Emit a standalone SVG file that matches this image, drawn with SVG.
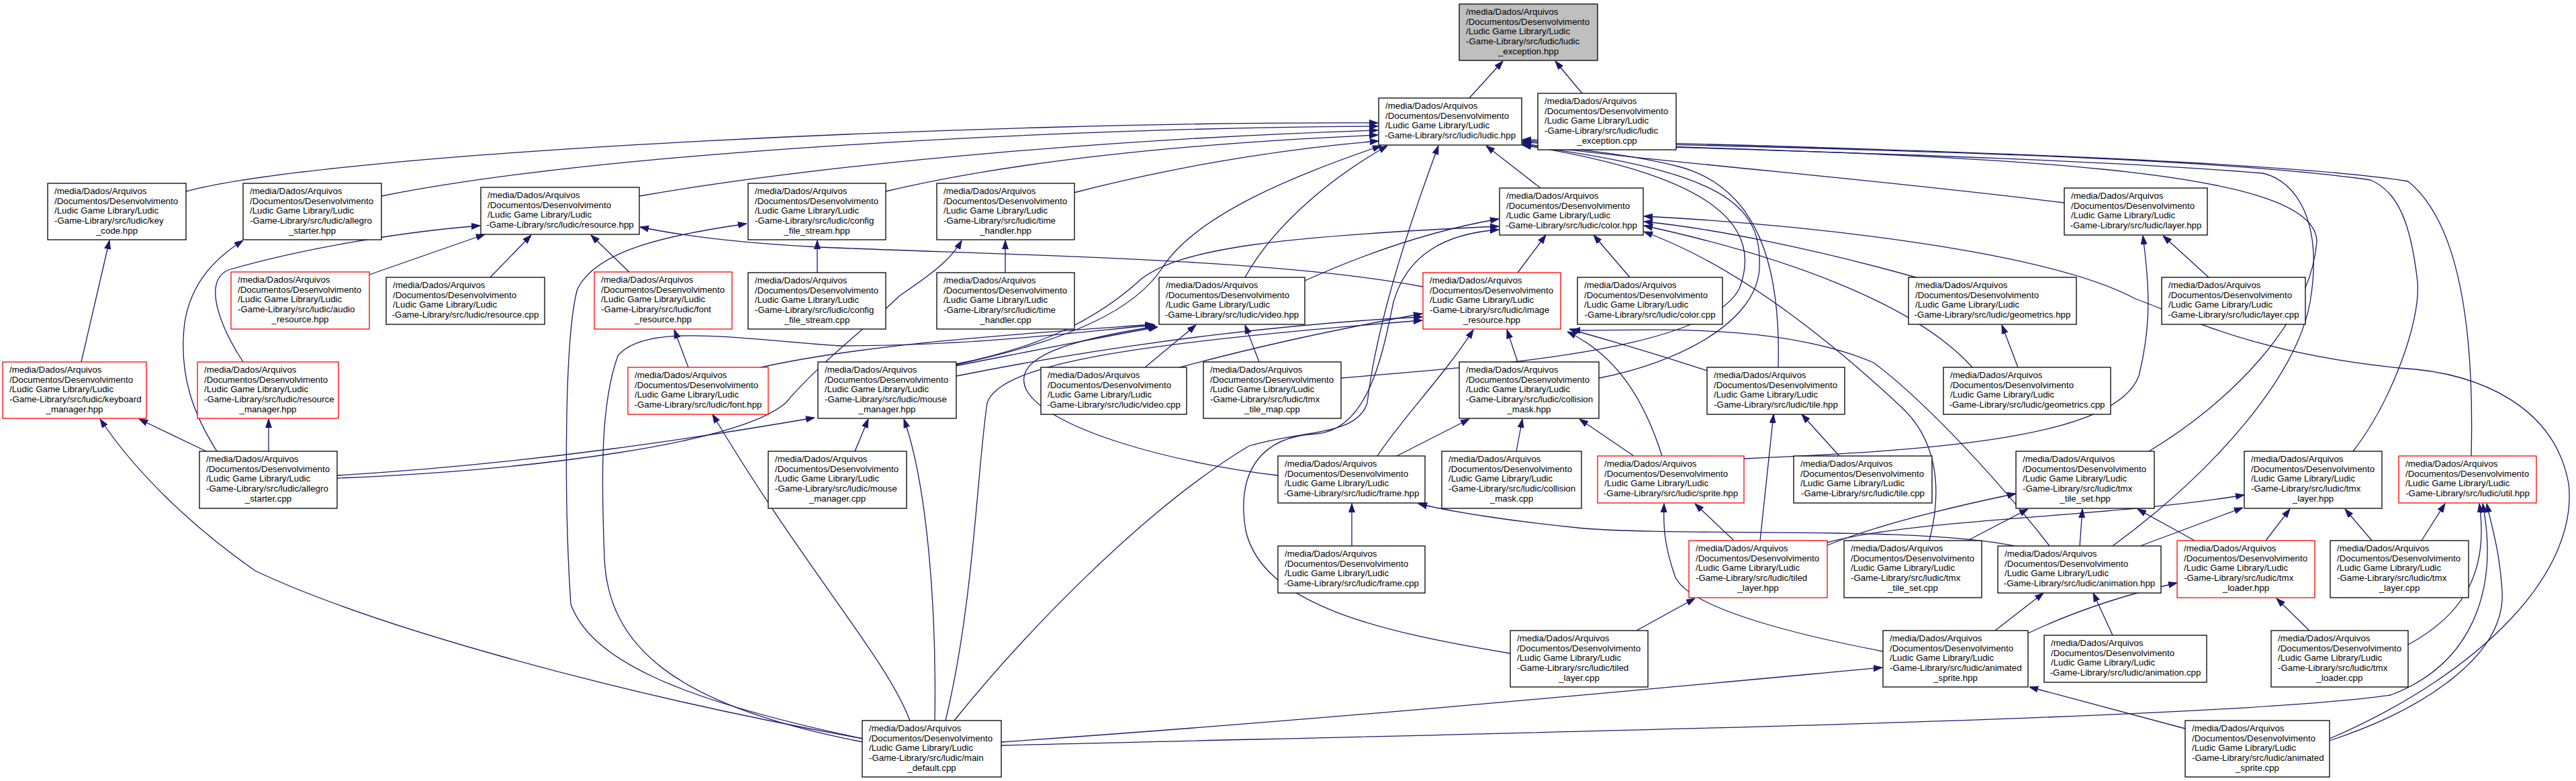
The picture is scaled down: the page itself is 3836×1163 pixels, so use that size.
<svg xmlns="http://www.w3.org/2000/svg" width="3836" height="1163" viewBox="0 0 3836 1163">
<defs>
<style>
.n rect{fill:#fff;stroke:#000;stroke-width:1.3}
.r rect{stroke:#f00}
.g rect{fill:#bfbfbf}
text{font-family:"Liberation Sans",Arial,sans-serif;font-size:13.3px;fill:#000}
.c{text-anchor:middle}
#edges path{fill:none;stroke:#191970;stroke-width:1.3;marker-end:url(#a)}
</style>
<marker id="a" markerUnits="userSpaceOnUse" markerWidth="13" markerHeight="10" viewBox="0 0 13 10" refX="13" refY="5" orient="auto"><path d="M0,0.5 L13,5 L0,9.5 z" fill="#191970" stroke="#191970" stroke-width="1"/></marker>
</defs>
<rect width="3836" height="1163" fill="#fff"/>
<g id="edges">
<path d="M2188,146 L2238,91"/>
<path d="M2356,139 L2316,91"/>
<path d="M277,285 C500,225 1500,180 2052,183"/>
<path d="M568,292 C900,225 1600,190 2052,188"/>
<path d="M952,292 C1250,240 1700,205 2052,194"/>
<path d="M1319,285 C1550,230 1850,210 2052,201"/>
<path d="M1599,287 C1780,240 1950,218 2053,210"/>
<path d="M1424,543 C1600,505 1690,460 1730,400 C1780,320 1930,260 2057,217"/>
<path d="M1424,542 C1560,515 1640,470 1700,415 C1760,370 1900,352 2232,337"/>
<path d="M1854,413 C1900,330 1990,260 2066,217"/>
<path d="M1421,1073 C1520,950 1700,760 1860,664 C1940,640 2020,650 2036,600 C2050,480 2100,330 2142,217"/>
<path d="M2294,280 L2213,217"/>
<path d="M3074,302 C2750,262 2450,240 2267,214"/>
<path d="M2648,547 C2652,400 2620,280 2500,248 C2420,228 2330,220 2267,215"/>
<path d="M1997,563 C2200,545 2540,525 2590,430 C2625,340 2560,262 2267,216"/>
<path d="M2381,563 C2500,540 2615,480 2620,400 C2625,300 2560,255 2267,216"/>
<path d="M3200,672 C3320,600 3440,480 3450,360 C3450,250 3000,232 2267,212"/>
<path d="M3504,672 C3560,600 3605,480 3600,420 C3590,330 3570,285 3530,268 C3300,235 2800,222 2267,210"/>
<path d="M3680,679 C3685,480 3660,330 3586,270 C3400,240 2800,220 2267,208"/>
<path d="M3146,813 C3300,700 3420,560 3440,450 C3460,330 3420,270 3370,258 C3100,236 2700,226 2267,212"/>
<path d="M3469,1100 C3700,1000 3840,850 3825,720 C3805,610 3700,555 3573,548 C3350,525 3250,470 3180,445 C3050,375 2700,335 2448,322"/>
<path d="M1491,1110 C2300,1090 3300,1072 3560,1035 C3680,990 3722,880 3697,750"/>
<path d="M3469,1103 C3600,1060 3732,980 3726,880 C3722,820 3712,790 3703,750"/>
<path d="M3586,960 C3660,920 3708,860 3692,750"/>
<path d="M3606,805 L3641,750"/>
<path d="M3532,805 L3492,758"/>
<path d="M3374,805 L3410,758"/>
<path d="M3268,805 L3183,758"/>
<path d="M3439,939 L3390,891"/>
<path d="M3020,943 C3100,905 3180,882 3242,868"/>
<path d="M2971,939 L3043,883"/>
<path d="M3146,946 L3117,883"/>
<path d="M3097,813 L3101,758"/>
<path d="M3187,813 L3340,756"/>
<path d="M2930,805 L3020,758"/>
<path d="M2721,812 C2800,780 2920,752 3002,735"/>
<path d="M2721,808 C2850,772 3150,770 3342,737"/>
<path d="M2621,805 L2641,617"/>
<path d="M2739,679 L2683,617"/>
<path d="M2582,805 L2524,750"/>
<path d="M2437,939 L2524,891"/>
<path d="M2804,970 C2700,950 2520,910 2495,860 C2477,810 2477,780 2478,750"/>
<path d="M3254,1085 L3022,1023"/>
<path d="M1491,1105 C2000,1070 2500,1022 2803,994"/>
<path d="M2433,679 L2352,624"/>
<path d="M2475,679 C2450,600 2410,530 2334,494"/>
<path d="M2542,552 C2460,525 2390,505 2337,490"/>
<path d="M2080,679 L2188,624"/>
<path d="M2051,679 C2090,620 2150,560 2194,491"/>
<path d="M2013,813 L2013,750"/>
<path d="M3000,813 C2850,782 2500,800 2350,786 C2250,776 2160,762 2112,750"/>
<path d="M2258,672 L2267,624"/>
<path d="M2260,539 L2244,491"/>
<path d="M1903,708 C1750,690 1560,640 1528,580 C1505,530 1600,505 1722,486"/>
<path d="M1705,547 L1781,484"/>
<path d="M1875,539 L1854,484"/>
<path d="M1757,547 C1850,522 1950,498 2118,467"/>
<path d="M1943,418 C2050,370 2150,340 2232,326"/>
<path d="M2260,406 L2302,350"/>
<path d="M2427,413 L2373,350"/>
<path d="M2853,413 C2700,370 2550,340 2448,330"/>
<path d="M3005,547 L2981,484"/>
<path d="M2937,547 C2850,450 2650,380 2448,336"/>
<path d="M3289,413 L3221,351"/>
<path d="M2873,805 C2895,720 2880,650 2830,605 C2750,530 2600,400 2448,345"/>
<path d="M3052,813 C2980,720 2870,600 2790,540 C2650,480 2450,492 2340,492"/>
<path d="M2119,427 C1900,385 1500,380 1220,368 C1100,362 1010,350 953,338"/>
<path d="M362,539 C330,490 300,420 340,402 C450,370 600,345 715,336"/>
<path d="M550,409 L722,349"/>
<path d="M730,413 L791,350"/>
<path d="M937,405 L880,350"/>
<path d="M121,539 L163,358"/>
<path d="M307,672 L207,624"/>
<path d="M1285,1100 C900,1030 550,930 380,850 C280,780 200,700 149,624"/>
<path d="M400,672 L400,624"/>
<path d="M323,672 C290,620 265,560 275,480 C285,420 320,385 362,358"/>
<path d="M502,708 C800,690 1050,650 1213,622"/>
<path d="M502,712 C800,700 1100,660 1170,600 C1220,540 1300,480 1340,440 C1400,400 1420,380 1432,358"/>
<path d="M1273,672 L1293,624"/>
<path d="M1392,1073 C1395,900 1380,720 1346,624"/>
<path d="M1355,1073 C1320,980 1200,850 1061,617"/>
<path d="M1285,1100 C1000,1040 880,980 850,900 C840,750 840,500 860,430 C890,370 1000,350 1112,333"/>
<path d="M1285,1105 C1000,1050 905,960 900,830 C895,700 895,600 920,530 C960,480 1100,505 1250,515 C1450,515 1600,495 1720,484"/>
<path d="M1025,547 L1004,491"/>
<path d="M1133,547 C1300,510 1550,495 1718,483"/>
<path d="M1422,545 C1550,520 1650,500 1724,487"/>
<path d="M1424,560 C1700,505 1950,480 2118,472"/>
<path d="M1408,1073 C1450,900 1455,700 1470,600 C1490,540 1700,510 2118,477"/>
<path d="M1217,406 L1217,358"/>
<path d="M1497,406 L1497,358"/>
<path d="M2597,683 C2900,670 3150,650 3185,560 C3205,480 3200,420 3191,351"/>
<path d="M2249,973 C2050,940 1880,900 1855,790 C1840,700 1880,650 1960,646 C2040,640 2060,520 2075,450 C2095,380 2150,348 2232,342"/>
</g>
<g id="n1" class="n g"><rect x="2173" y="6" width="206" height="84"/><text x="2183" y="22">/media/Dados/Arquivos</text><text x="2183" y="36.7">/Documentos/Desenvolvimento</text><text x="2183" y="51.3">/Ludic Game Library/Ludic</text><text x="2183" y="66">-Game-Library/src/ludic/ludic</text><text class="c" x="2276" y="80.7">_exception.hpp</text></g>
<g id="n2" class="n"><rect x="2053" y="146" width="213" height="70"/><text x="2063" y="162">/media/Dados/Arquivos</text><text x="2063" y="176.7">/Documentos/Desenvolvimento</text><text x="2063" y="191.3">/Ludic Game Library/Ludic</text><text class="c" x="2159.5" y="206">-Game-Library/src/ludic/ludic.hpp</text></g>
<g id="n3" class="n"><rect x="2290" y="139" width="206" height="84"/><text x="2300" y="155">/media/Dados/Arquivos</text><text x="2300" y="169.7">/Documentos/Desenvolvimento</text><text x="2300" y="184.3">/Ludic Game Library/Ludic</text><text x="2300" y="199">-Game-Library/src/ludic/ludic</text><text class="c" x="2393" y="213.7">_exception.cpp</text></g>
<g id="n4" class="n"><rect x="71" y="273" width="206" height="84"/><text x="81" y="289">/media/Dados/Arquivos</text><text x="81" y="303.7">/Documentos/Desenvolvimento</text><text x="81" y="318.3">/Ludic Game Library/Ludic</text><text x="81" y="333">-Game-Library/src/ludic/key</text><text class="c" x="174" y="347.7">_code.hpp</text></g>
<g id="n5" class="n"><rect x="362" y="273" width="206" height="84"/><text x="372" y="289">/media/Dados/Arquivos</text><text x="372" y="303.7">/Documentos/Desenvolvimento</text><text x="372" y="318.3">/Ludic Game Library/Ludic</text><text x="372" y="333">-Game-Library/src/ludic/allegro</text><text class="c" x="465" y="347.7">_starter.hpp</text></g>
<g id="n6" class="n"><rect x="716" y="279" width="236" height="70"/><text x="726" y="295">/media/Dados/Arquivos</text><text x="726" y="309.7">/Documentos/Desenvolvimento</text><text x="726" y="324.3">/Ludic Game Library/Ludic</text><text class="c" x="834" y="339">-Game-Library/src/ludic/resource.hpp</text></g>
<g id="n7" class="n"><rect x="1114" y="273" width="205" height="84"/><text x="1124" y="289">/media/Dados/Arquivos</text><text x="1124" y="303.7">/Documentos/Desenvolvimento</text><text x="1124" y="318.3">/Ludic Game Library/Ludic</text><text x="1124" y="333">-Game-Library/src/ludic/config</text><text class="c" x="1216.5" y="347.7">_file_stream.hpp</text></g>
<g id="n8" class="n"><rect x="1395" y="273" width="205" height="84"/><text x="1405" y="289">/media/Dados/Arquivos</text><text x="1405" y="303.7">/Documentos/Desenvolvimento</text><text x="1405" y="318.3">/Ludic Game Library/Ludic</text><text x="1405" y="333">-Game-Library/src/ludic/time</text><text class="c" x="1497.5" y="347.7">_handler.hpp</text></g>
<g id="n9" class="n"><rect x="2233" y="280" width="214" height="70"/><text x="2243" y="296">/media/Dados/Arquivos</text><text x="2243" y="310.7">/Documentos/Desenvolvimento</text><text x="2243" y="325.3">/Ludic Game Library/Ludic</text><text class="c" x="2340" y="340">-Game-Library/src/ludic/color.hpp</text></g>
<g id="n10" class="n"><rect x="3074" y="280" width="213" height="70"/><text x="3084" y="296">/media/Dados/Arquivos</text><text x="3084" y="310.7">/Documentos/Desenvolvimento</text><text x="3084" y="325.3">/Ludic Game Library/Ludic</text><text class="c" x="3180.5" y="340">-Game-Library/src/ludic/layer.hpp</text></g>
<g id="n11" class="n r"><rect x="344" y="405" width="206" height="85"/><text x="354" y="421">/media/Dados/Arquivos</text><text x="354" y="435.7">/Documentos/Desenvolvimento</text><text x="354" y="450.3">/Ludic Game Library/Ludic</text><text x="354" y="465">-Game-Library/src/ludic/audio</text><text class="c" x="447" y="479.7">_resource.hpp</text></g>
<g id="n12" class="n"><rect x="575" y="413" width="236" height="70"/><text x="585" y="429">/media/Dados/Arquivos</text><text x="585" y="443.7">/Documentos/Desenvolvimento</text><text x="585" y="458.3">/Ludic Game Library/Ludic</text><text class="c" x="693" y="473">-Game-Library/src/ludic/resource.cpp</text></g>
<g id="n13" class="n r"><rect x="885" y="405" width="205" height="85"/><text x="895" y="421">/media/Dados/Arquivos</text><text x="895" y="435.7">/Documentos/Desenvolvimento</text><text x="895" y="450.3">/Ludic Game Library/Ludic</text><text x="895" y="465">-Game-Library/src/ludic/font</text><text class="c" x="987.5" y="479.7">_resource.hpp</text></g>
<g id="n14" class="n"><rect x="1114" y="406" width="205" height="84"/><text x="1124" y="422">/media/Dados/Arquivos</text><text x="1124" y="436.7">/Documentos/Desenvolvimento</text><text x="1124" y="451.3">/Ludic Game Library/Ludic</text><text x="1124" y="466">-Game-Library/src/ludic/config</text><text class="c" x="1216.5" y="480.7">_file_stream.cpp</text></g>
<g id="n15" class="n"><rect x="1395" y="406" width="205" height="84"/><text x="1405" y="422">/media/Dados/Arquivos</text><text x="1405" y="436.7">/Documentos/Desenvolvimento</text><text x="1405" y="451.3">/Ludic Game Library/Ludic</text><text x="1405" y="466">-Game-Library/src/ludic/time</text><text class="c" x="1497.5" y="480.7">_handler.cpp</text></g>
<g id="n16" class="n"><rect x="1726" y="413" width="217" height="70"/><text x="1736" y="429">/media/Dados/Arquivos</text><text x="1736" y="443.7">/Documentos/Desenvolvimento</text><text x="1736" y="458.3">/Ludic Game Library/Ludic</text><text class="c" x="1834.5" y="473">-Game-Library/src/ludic/video.hpp</text></g>
<g id="n17" class="n r"><rect x="2119" y="406" width="205" height="84"/><text x="2129" y="422">/media/Dados/Arquivos</text><text x="2129" y="436.7">/Documentos/Desenvolvimento</text><text x="2129" y="451.3">/Ludic Game Library/Ludic</text><text x="2129" y="466">-Game-Library/src/ludic/image</text><text class="c" x="2221.5" y="480.7">_resource.hpp</text></g>
<g id="n18" class="n"><rect x="2349" y="413" width="216" height="70"/><text x="2359" y="429">/media/Dados/Arquivos</text><text x="2359" y="443.7">/Documentos/Desenvolvimento</text><text x="2359" y="458.3">/Ludic Game Library/Ludic</text><text class="c" x="2457" y="473">-Game-Library/src/ludic/color.cpp</text></g>
<g id="n19" class="n"><rect x="2842" y="413" width="250" height="70"/><text x="2852" y="429">/media/Dados/Arquivos</text><text x="2852" y="443.7">/Documentos/Desenvolvimento</text><text x="2852" y="458.3">/Ludic Game Library/Ludic</text><text class="c" x="2967" y="473">-Game-Library/src/ludic/geometrics.hpp</text></g>
<g id="n20" class="n"><rect x="3219" y="413" width="214" height="70"/><text x="3229" y="429">/media/Dados/Arquivos</text><text x="3229" y="443.7">/Documentos/Desenvolvimento</text><text x="3229" y="458.3">/Ludic Game Library/Ludic</text><text class="c" x="3326" y="473">-Game-Library/src/ludic/layer.cpp</text></g>
<g id="n21" class="n r"><rect x="4" y="539" width="214" height="84"/><text x="14" y="555">/media/Dados/Arquivos</text><text x="14" y="569.7">/Documentos/Desenvolvimento</text><text x="14" y="584.3">/Ludic Game Library/Ludic</text><text x="14" y="599">-Game-Library/src/ludic/keyboard</text><text class="c" x="111" y="613.7">_manager.hpp</text></g>
<g id="n22" class="n r"><rect x="294" y="539" width="210" height="84"/><text x="304" y="555">/media/Dados/Arquivos</text><text x="304" y="569.7">/Documentos/Desenvolvimento</text><text x="304" y="584.3">/Ludic Game Library/Ludic</text><text x="304" y="599">-Game-Library/src/ludic/resource</text><text class="c" x="399" y="613.7">_manager.hpp</text></g>
<g id="n23" class="n r"><rect x="935" y="547" width="209" height="70"/><text x="945" y="563">/media/Dados/Arquivos</text><text x="945" y="577.7">/Documentos/Desenvolvimento</text><text x="945" y="592.3">/Ludic Game Library/Ludic</text><text class="c" x="1039.5" y="607">-Game-Library/src/ludic/font.hpp</text></g>
<g id="n24" class="n"><rect x="1218" y="539" width="206" height="84"/><text x="1228" y="555">/media/Dados/Arquivos</text><text x="1228" y="569.7">/Documentos/Desenvolvimento</text><text x="1228" y="584.3">/Ludic Game Library/Ludic</text><text x="1228" y="599">-Game-Library/src/ludic/mouse</text><text class="c" x="1321" y="613.7">_manager.hpp</text></g>
<g id="n25" class="n"><rect x="1550" y="547" width="217" height="70"/><text x="1560" y="563">/media/Dados/Arquivos</text><text x="1560" y="577.7">/Documentos/Desenvolvimento</text><text x="1560" y="592.3">/Ludic Game Library/Ludic</text><text class="c" x="1658.5" y="607">-Game-Library/src/ludic/video.cpp</text></g>
<g id="n26" class="n"><rect x="1792" y="539" width="205" height="84"/><text x="1802" y="555">/media/Dados/Arquivos</text><text x="1802" y="569.7">/Documentos/Desenvolvimento</text><text x="1802" y="584.3">/Ludic Game Library/Ludic</text><text x="1802" y="599">-Game-Library/src/ludic/tmx</text><text class="c" x="1894.5" y="613.7">_tile_map.cpp</text></g>
<g id="n27" class="n"><rect x="2173" y="539" width="208" height="84"/><text x="2183" y="555">/media/Dados/Arquivos</text><text x="2183" y="569.7">/Documentos/Desenvolvimento</text><text x="2183" y="584.3">/Ludic Game Library/Ludic</text><text x="2183" y="599">-Game-Library/src/ludic/collision</text><text class="c" x="2277" y="613.7">_mask.hpp</text></g>
<g id="n28" class="n"><rect x="2542" y="547" width="205" height="70"/><text x="2552" y="563">/media/Dados/Arquivos</text><text x="2552" y="577.7">/Documentos/Desenvolvimento</text><text x="2552" y="592.3">/Ludic Game Library/Ludic</text><text class="c" x="2644.5" y="607">-Game-Library/src/ludic/tile.hpp</text></g>
<g id="n29" class="n"><rect x="2894" y="547" width="249" height="70"/><text x="2904" y="563">/media/Dados/Arquivos</text><text x="2904" y="577.7">/Documentos/Desenvolvimento</text><text x="2904" y="592.3">/Ludic Game Library/Ludic</text><text class="c" x="3018.5" y="607">-Game-Library/src/ludic/geometrics.cpp</text></g>
<g id="n30" class="n"><rect x="297" y="672" width="205" height="85"/><text x="307" y="688">/media/Dados/Arquivos</text><text x="307" y="702.7">/Documentos/Desenvolvimento</text><text x="307" y="717.3">/Ludic Game Library/Ludic</text><text x="307" y="732">-Game-Library/src/ludic/allegro</text><text class="c" x="399.5" y="746.7">_starter.cpp</text></g>
<g id="n31" class="n"><rect x="1144" y="672" width="206" height="85"/><text x="1154" y="688">/media/Dados/Arquivos</text><text x="1154" y="702.7">/Documentos/Desenvolvimento</text><text x="1154" y="717.3">/Ludic Game Library/Ludic</text><text x="1154" y="732">-Game-Library/src/ludic/mouse</text><text class="c" x="1247" y="746.7">_manager.cpp</text></g>
<g id="n32" class="n"><rect x="1903" y="679" width="219" height="70"/><text x="1913" y="695">/media/Dados/Arquivos</text><text x="1913" y="709.7">/Documentos/Desenvolvimento</text><text x="1913" y="724.3">/Ludic Game Library/Ludic</text><text class="c" x="2012.5" y="739">-Game-Library/src/ludic/frame.hpp</text></g>
<g id="n33" class="n"><rect x="2147" y="672" width="208" height="85"/><text x="2157" y="688">/media/Dados/Arquivos</text><text x="2157" y="702.7">/Documentos/Desenvolvimento</text><text x="2157" y="717.3">/Ludic Game Library/Ludic</text><text x="2157" y="732">-Game-Library/src/ludic/collision</text><text class="c" x="2251" y="746.7">_mask.cpp</text></g>
<g id="n34" class="n r"><rect x="2379" y="679" width="218" height="70"/><text x="2389" y="695">/media/Dados/Arquivos</text><text x="2389" y="709.7">/Documentos/Desenvolvimento</text><text x="2389" y="724.3">/Ludic Game Library/Ludic</text><text class="c" x="2488" y="739">-Game-Library/src/ludic/sprite.hpp</text></g>
<g id="n35" class="n"><rect x="2671" y="679" width="206" height="70"/><text x="2681" y="695">/media/Dados/Arquivos</text><text x="2681" y="709.7">/Documentos/Desenvolvimento</text><text x="2681" y="724.3">/Ludic Game Library/Ludic</text><text class="c" x="2774" y="739">-Game-Library/src/ludic/tile.cpp</text></g>
<g id="n36" class="n"><rect x="3002" y="672" width="206" height="85"/><text x="3012" y="688">/media/Dados/Arquivos</text><text x="3012" y="702.7">/Documentos/Desenvolvimento</text><text x="3012" y="717.3">/Ludic Game Library/Ludic</text><text x="3012" y="732">-Game-Library/src/ludic/tmx</text><text class="c" x="3105" y="746.7">_tile_set.hpp</text></g>
<g id="n37" class="n"><rect x="3342" y="672" width="205" height="85"/><text x="3352" y="688">/media/Dados/Arquivos</text><text x="3352" y="702.7">/Documentos/Desenvolvimento</text><text x="3352" y="717.3">/Ludic Game Library/Ludic</text><text x="3352" y="732">-Game-Library/src/ludic/tmx</text><text class="c" x="3444.5" y="746.7">_layer.hpp</text></g>
<g id="n38" class="n r"><rect x="3572" y="679" width="205" height="70"/><text x="3582" y="695">/media/Dados/Arquivos</text><text x="3582" y="709.7">/Documentos/Desenvolvimento</text><text x="3582" y="724.3">/Ludic Game Library/Ludic</text><text class="c" x="3674.5" y="739">-Game-Library/src/ludic/util.hpp</text></g>
<g id="n39" class="n"><rect x="1903" y="813" width="219" height="70"/><text x="1913" y="829">/media/Dados/Arquivos</text><text x="1913" y="843.7">/Documentos/Desenvolvimento</text><text x="1913" y="858.3">/Ludic Game Library/Ludic</text><text class="c" x="2012.5" y="873">-Game-Library/src/ludic/frame.cpp</text></g>
<g id="n40" class="n r"><rect x="2515" y="805" width="206" height="85"/><text x="2525" y="821">/media/Dados/Arquivos</text><text x="2525" y="835.7">/Documentos/Desenvolvimento</text><text x="2525" y="850.3">/Ludic Game Library/Ludic</text><text x="2525" y="865">-Game-Library/src/ludic/tiled</text><text class="c" x="2618" y="879.7">_layer.hpp</text></g>
<g id="n41" class="n"><rect x="2746" y="805" width="205" height="85"/><text x="2756" y="821">/media/Dados/Arquivos</text><text x="2756" y="835.7">/Documentos/Desenvolvimento</text><text x="2756" y="850.3">/Ludic Game Library/Ludic</text><text x="2756" y="865">-Game-Library/src/ludic/tmx</text><text class="c" x="2848.5" y="879.7">_tile_set.cpp</text></g>
<g id="n42" class="n"><rect x="2975" y="813" width="243" height="70"/><text x="2985" y="829">/media/Dados/Arquivos</text><text x="2985" y="843.7">/Documentos/Desenvolvimento</text><text x="2985" y="858.3">/Ludic Game Library/Ludic</text><text class="c" x="3096.5" y="873">-Game-Library/src/ludic/animation.hpp</text></g>
<g id="n43" class="n r"><rect x="3242" y="805" width="205" height="85"/><text x="3252" y="821">/media/Dados/Arquivos</text><text x="3252" y="835.7">/Documentos/Desenvolvimento</text><text x="3252" y="850.3">/Ludic Game Library/Ludic</text><text x="3252" y="865">-Game-Library/src/ludic/tmx</text><text class="c" x="3344.5" y="879.7">_loader.hpp</text></g>
<g id="n44" class="n"><rect x="3470" y="805" width="206" height="85"/><text x="3480" y="821">/media/Dados/Arquivos</text><text x="3480" y="835.7">/Documentos/Desenvolvimento</text><text x="3480" y="850.3">/Ludic Game Library/Ludic</text><text x="3480" y="865">-Game-Library/src/ludic/tmx</text><text class="c" x="3573" y="879.7">_layer.cpp</text></g>
<g id="n45" class="n"><rect x="2249" y="939" width="205" height="84"/><text x="2259" y="955">/media/Dados/Arquivos</text><text x="2259" y="969.7">/Documentos/Desenvolvimento</text><text x="2259" y="984.3">/Ludic Game Library/Ludic</text><text x="2259" y="999">-Game-Library/src/ludic/tiled</text><text class="c" x="2351.5" y="1013.7">_layer.cpp</text></g>
<g id="n46" class="n"><rect x="2804" y="939" width="216" height="84"/><text x="2814" y="955">/media/Dados/Arquivos</text><text x="2814" y="969.7">/Documentos/Desenvolvimento</text><text x="2814" y="984.3">/Ludic Game Library/Ludic</text><text x="2814" y="999">-Game-Library/src/ludic/animated</text><text class="c" x="2912" y="1013.7">_sprite.hpp</text></g>
<g id="n47" class="n"><rect x="3044" y="946" width="242" height="70"/><text x="3054" y="962">/media/Dados/Arquivos</text><text x="3054" y="976.7">/Documentos/Desenvolvimento</text><text x="3054" y="991.3">/Ludic Game Library/Ludic</text><text class="c" x="3165" y="1006">-Game-Library/src/ludic/animation.cpp</text></g>
<g id="n48" class="n"><rect x="3382" y="939" width="204" height="84"/><text x="3392" y="955">/media/Dados/Arquivos</text><text x="3392" y="969.7">/Documentos/Desenvolvimento</text><text x="3392" y="984.3">/Ludic Game Library/Ludic</text><text x="3392" y="999">-Game-Library/src/ludic/tmx</text><text class="c" x="3484" y="1013.7">_loader.cpp</text></g>
<g id="n49" class="n"><rect x="1284" y="1073" width="207" height="84"/><text x="1294" y="1089">/media/Dados/Arquivos</text><text x="1294" y="1103.7">/Documentos/Desenvolvimento</text><text x="1294" y="1118.3">/Ludic Game Library/Ludic</text><text x="1294" y="1133">-Game-Library/src/ludic/main</text><text class="c" x="1387.5" y="1147.7">_default.cpp</text></g>
<g id="n50" class="n"><rect x="3254" y="1073" width="215" height="84"/><text x="3264" y="1089">/media/Dados/Arquivos</text><text x="3264" y="1103.7">/Documentos/Desenvolvimento</text><text x="3264" y="1118.3">/Ludic Game Library/Ludic</text><text x="3264" y="1133">-Game-Library/src/ludic/animated</text><text class="c" x="3361.5" y="1147.7">_sprite.cpp</text></g>
</svg>
